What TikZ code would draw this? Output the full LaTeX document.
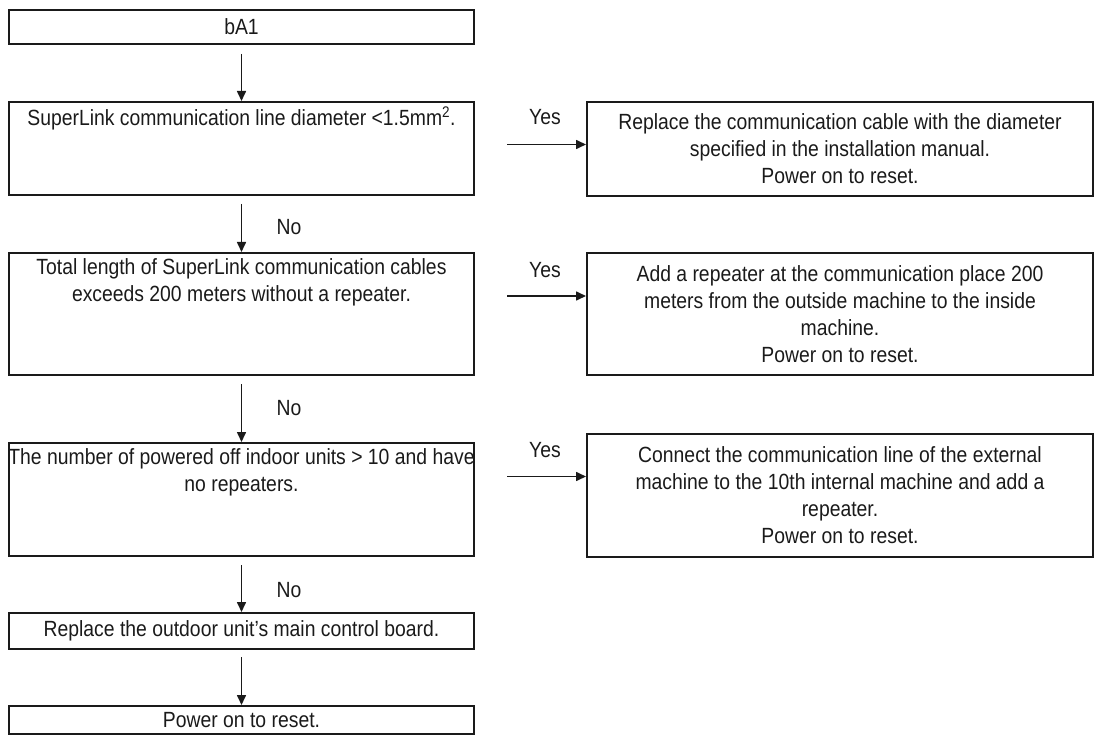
\documentclass[tikz,border=0pt]{standalone}
\usepackage{fontspec}
\setmainfont[FakeStretch=0.88]{Liberation Sans}
\usetikzlibrary{arrows.meta,calc}
\definecolor{ink}{HTML}{1A1A1A}
\tikzset{
  box/.style={draw=ink, line width=2pt, inner sep=0pt},
  txt/.style={text=ink, font=\fontsize{22}{27}\selectfont, align=center, inner sep=0pt},
  arr/.style={draw=ink, line width=1.6pt, -{Triangle[length=10pt,width=9pt]}},
  lbl/.style={text=ink, font=\fontsize{22}{24}\selectfont, inner sep=0pt},
}
\newcommand{\mybox}[5]{% name, x1, y1, x2, y2
  \node[box, minimum width={#4-#2}, minimum height={#5-#3}, anchor=north west] (#1) at (#2,#3) {};}
\begin{document}
\begin{tikzpicture}[x=1pt,y=-1pt]
\useasboundingbox (0,0) rectangle (1094,735);
% boxes
\mybox{b0}{8}{9}{473}{43}
\mybox{q1}{8}{101}{473}{194}
\mybox{q2}{8}{252}{473}{374}
\mybox{q3}{8}{442}{473}{555}
\mybox{a4}{8}{612}{473}{648}
\mybox{a5}{8}{705}{473}{733}
\mybox{r1}{586}{101}{1092}{195}
\mybox{r2}{586}{252}{1092}{374}
\mybox{r3}{586}{433}{1092}{556}
% texts
\node[txt] (b0t) at (b0.center) {bA1};
\node[txt, anchor=north] (q1t) at ([yshift=-6pt]q1.north) {SuperLink communication line diameter <1.5mm\textsuperscript{2}.};
\node[txt, anchor=north] (q2t) at ([yshift=-6pt]q2.north) {Total length of SuperLink communication cables\\exceeds 200 meters without a repeater.};
\node[txt, anchor=north] (q3t) at ([yshift=-6pt]q3.north) {The number of powered off indoor units > 10 and have\\no repeaters.};
\node[txt] (a4t) at (a4.center) {Replace the outdoor unit’s main control board.};
\node[txt] (a5t) at (a5.center) {Power on to reset.};
\node[txt] (r1t) at (r1.center) {Replace the communication cable with the diameter\\specified in the installation manual.\\Power on to reset.};
\node[txt] (r2t) at (r2.center) {Add a repeater at the communication place 200\\meters from the outside machine to the inside\\machine.\\Power on to reset.};
\node[txt] (r3t) at (r3.center) {Connect the communication line of the external\\machine to the 10th internal machine and add a\\repeater.\\Power on to reset.};
% vertical arrows
\draw[arr, shorten <=9pt] (b0.south) -- (q1.north);
\draw[arr, shorten <=8pt] (q1.south) -- (q2.north);
\draw[arr, shorten <=8pt] (q2.south) -- (q3.north);
\draw[arr, shorten <=8pt] (q3.south) -- (a4.north);
\draw[arr, shorten <=7pt] (a4.south) -- (a5.north);
\node[lbl] (n1) at (289,227) {No};
\node[lbl] (n2) at (289,408) {No};
\node[lbl] (n3) at (289,590) {No};
% horizontal arrows
\draw[arr, shorten <=32pt] ([yshift=4pt]q1.east) -- ([yshift=4pt]q1.east -| r1.west);
\draw[arr, shorten <=32pt] ([yshift=18pt]q2.east) -- ([yshift=18pt]q2.east -| r2.west);
\draw[arr, shorten <=32pt] ([yshift=23pt]q3.east) -- ([yshift=23pt]q3.east -| r3.west);
\node[lbl] (y1) at (545,117) {Yes};
\node[lbl] (y2) at (545,270) {Yes};
\node[lbl] (y3) at (545,450) {Yes};
\end{tikzpicture}
\end{document}
